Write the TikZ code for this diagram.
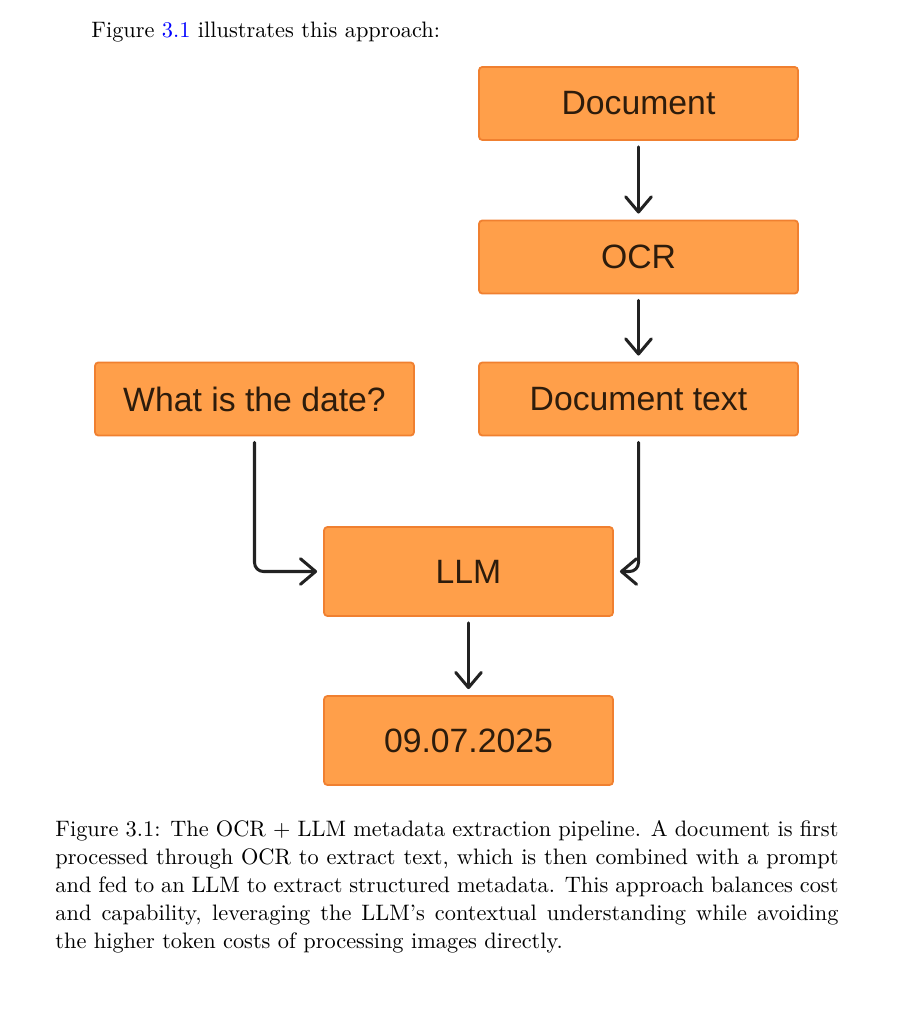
\documentclass[tikz,border=0pt]{standalone}
\usepackage{fontspec}
\newfontfamily\boxfont{Liberation Sans}
\usetikzlibrary{arrows.meta}
\definecolor{boxfill}{RGB}{255,159,74}
\definecolor{boxdraw}{RGB}{240,128,48}
\definecolor{boxtext}{RGB}{45,28,12}
\definecolor{arrowc}{RGB}{34,34,34}
\begin{document}
\begin{tikzpicture}[x=0.4475pt,y=-0.4475pt,
  box/.style={draw=boxdraw, fill=boxfill, line width=0.8pt, rounded corners=1.5pt,
    inner sep=0pt, font=\boxfont\fontsize{15.1}{18}\selectfont, text=boxtext},
  widebox/.style={box, minimum width=142.75pt, minimum height=32.7pt},
  bigbox/.style={box, minimum width=129.3pt, minimum height=39.8pt},
  conn/.style={draw=arrowc, line width=1.35pt, line cap=round, line join=round,
    rounded corners=4pt, shorten <=2.7pt, shorten >=2.7pt,
    -{Straight Barb[length=6.8pt,width=11.5pt,line width=1.35pt,round]}}]
\useasboundingbox (0,0) rectangle (913,1024);

\node[anchor=base west, inner sep=0pt] (intro) at (91,38)
  {Figure \textcolor{blue}{3.1} illustrates this approach:};

\node[widebox] (doc) at (638.5,103.5) {Document};
\node[widebox] (ocr) at (638.5,257) {OCR};
\node[widebox] (dtext) at (638.5,399) {Document text};
\node[widebox] (q) at (254.5,399) {What is the date?};
\node[bigbox] (llm) at (468.5,571.5) {LLM};
\node[bigbox] (out) at (468.5,740.5) {09.07.2025};

\draw[conn] (doc.south) -- (ocr.north);
\draw[conn] (ocr.south) -- (dtext.north);
\draw[conn] (dtext.south) |- (llm.east);
\draw[conn] (q.south) |- (llm.west);
\draw[conn] (llm.south) -- (out.north);

\node[anchor=north west, inner sep=0pt, text width=350.4pt, align=justify,
  font=\fontsize{10}{12.5}\selectfont] (cap) at (55,820)
  {Figure 3.1: The OCR $+$ LLM metadata extraction pipeline. A document is first\linebreak
   processed through OCR to extract text, which is then combined with a prompt\linebreak
   and fed to an LLM to extract structured metadata. This approach balances cost\linebreak
   and capability, leveraging the LLM’s contextual understanding while avoiding\linebreak
   the higher token costs of processing images directly.};
\end{tikzpicture}
\end{document}
